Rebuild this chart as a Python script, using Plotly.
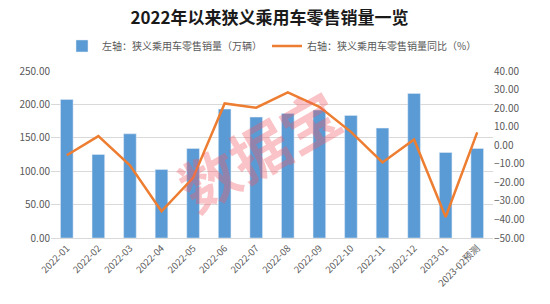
import plotly.graph_objects as go

months = ["2022-01", "2022-02", "2022-03", "2022-04", "2022-05", "2022-06", "2022-07",
          "2022-08", "2022-09", "2022-10", "2022-11", "2022-12", "2023-01", "2023-02预测"]
sales = [207.5, 125.0, 156.0, 102.5, 134.0, 193.0, 181.0,
         186.5, 191.5, 183.5, 164.5, 216.5, 128.0, 134.0]
yoy = [-5.4, 4.9, -10.8, -35.6, -17.6, 22.5, 20.2,
       28.5, 20.7, 7.2, -9.3, 3.1, -38.7, 6.9]

title_text = "2022年以来狭义乘用车零售销量一览"
bar_name = "左轴：狭义乘用车零售销量（万辆）"
line_name = "右轴：狭义乘用车零售销量同比（%）"
font_family = "Noto Sans CJK SC, Noto Sans, sans-serif"

fig = go.Figure()
fig.add_trace(go.Bar(x=months, y=sales, name=bar_name, marker_color="#5B9BD5",
                     width=0.4, yaxis="y"))
fig.add_trace(go.Scatter(x=months, y=yoy, name=line_name, mode="lines",
                         line=dict(color="#ED7D31", width=2.5), yaxis="y2"))

fig.add_annotation(text="数据宝", x=0.47, y=0.53, xref="paper", yref="paper",
                   showarrow=False, textangle=-30,
                   font=dict(size=58, color="rgba(240,90,100,0.36)", family=font_family,
                             weight="bold"))

fig.update_layout(
    width=550, height=304,
    margin=dict(l=51, r=57, t=71, b=66),
    paper_bgcolor="white", plot_bgcolor="white",
    font=dict(family=font_family, color="#595959", size=10),
    title=dict(text=title_text, x=0.49, xanchor="center", y=0.94, yanchor="middle",
               font=dict(size=17, color="#1a1a1a", family=font_family, weight="bold")),
    legend=dict(orientation="h", x=0.5, xanchor="center", y=1.15, yanchor="middle",
                font=dict(size=10, color="#595959"), itemwidth=30, traceorder="normal"),
    xaxis=dict(type="category", tickangle=-45, tickfont=dict(size=9.5, color="#595959"),
               showline=True, linecolor="#D9D9D9", ticks=""),
    yaxis=dict(range=[0, 250], dtick=50, tickformat=".2f", showgrid=True,
               gridcolor="#D9D9D9", zeroline=False, tickfont=dict(size=10, color="#595959")),
    yaxis2=dict(range=[-50, 40], dtick=10, tickformat=".2f", overlaying="y", side="right",
                showgrid=False, zeroline=False, tickfont=dict(size=10, color="#595959")),
    bargap=0.6,
)

fig.write_html("out.html")
